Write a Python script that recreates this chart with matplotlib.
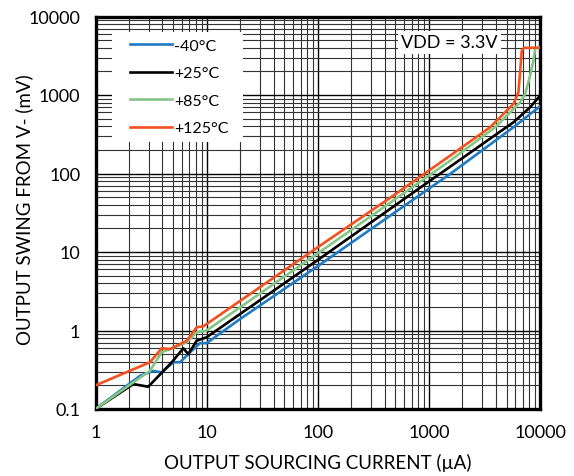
import matplotlib
matplotlib.use("Agg")
import matplotlib.pyplot as plt
from matplotlib.patches import Rectangle
from matplotlib.ticker import LogLocator, FixedLocator, FixedFormatter, NullFormatter

plt.rcParams['font.family'] = ['Lato', 'DejaVu Sans']

# Data (current in uA, swing in mV)
x_m40 = [1, 2.52, 3.31, 3.94, 5.01, 5.77, 7.10, 8.71, 10, 20, 100, 1000, 1552, 5765, 10000]
y_m40 = [0.1, 0.265, 0.305, 0.293, 0.394, 0.394, 0.528, 0.69, 0.69, 1.40, 6.6, 64, 98.6, 388, 718]

x_25 = [1, 2.19, 2.98, 4.86, 6.17, 6.84, 8.13, 10, 100, 1000, 1552, 5765, 8145, 10000]
y_25 = [0.1, 0.208, 0.192, 0.394, 0.593, 0.50, 0.74, 0.82, 7.9, 79, 122, 449, 697, 980]

x_85 = [1, 3.09, 3.94, 4.68, 6.62, 8.13, 10, 100, 1000, 1552, 3945, 6620, 7345, 8145, 8725, 9035, 9300, 10000]
y_85 = [0.1, 0.307, 0.528, 0.58, 0.707, 0.95, 1.0, 9.6, 94, 145.6, 388, 807, 1030, 1762, 2735, 3850, 4000, 4000]

x_125 = [1, 3.09, 3.94, 4.68, 6.62, 8.13, 9.33, 100, 432, 1552, 3556, 5765, 6395, 6855, 7200, 10000]
y_125 = [0.2, 0.394, 0.593, 0.58, 0.74, 1.10, 1.13, 11.5, 47.3, 168.6, 388, 768, 1083, 3665, 4000, 4000]

labels = ['-40°C', '+25°C', '+85°C', '+125°C']
colors = ['#1f7bc4', '#000000', '#84c784', '#f4511e']

x_ticks = [1, 10, 100, 1000, 10000]
x_ticklabels = ['1', '10', '100', '1000', '10000']
y_ticks = [0.1, 1, 10, 100, 1000, 10000]
y_ticklabels = ['0.1', '1', '10', '100', '1000', '10000']

fig = plt.figure(figsize=(5.74, 4.77), dpi=100)
ax = fig.add_axes([95.5/574, 1-410/477, (540-95.5)/574, (410-17.5)/477])
ax.set_xscale('log')
ax.set_yscale('log')
ax.set_xlim(1, 10000)
ax.set_ylim(0.1, 10000)

series = [(x_m40, y_m40), (x_25, y_25), (x_85, y_85), (x_125, y_125)]
for (xs, ys), lab, c in zip(series, labels, colors):
    ax.plot(xs, ys, color=c, lw=1.9, label=lab, zorder=3, solid_joinstyle='round')

ax.xaxis.set_major_locator(FixedLocator(x_ticks))
ax.xaxis.set_major_formatter(FixedFormatter(x_ticklabels))
ax.yaxis.set_major_locator(FixedLocator(y_ticks))
ax.yaxis.set_major_formatter(FixedFormatter(y_ticklabels))
ax.xaxis.set_minor_locator(LogLocator(base=10, subs=range(2, 10), numticks=20))
ax.yaxis.set_minor_locator(LogLocator(base=10, subs=range(2, 10), numticks=20))
ax.xaxis.set_minor_formatter(NullFormatter())
ax.yaxis.set_minor_formatter(NullFormatter())

ax.grid(which='major', color='black', lw=1.0)
ax.grid(which='minor', color='#333333', lw=0.8)
ax.set_axisbelow(True)
ax.tick_params(which='both', length=0, labelsize=13, pad=11)

for s in ax.spines.values():
    s.set_linewidth(2.4)
    s.set_color('black')

ax.set_xlabel('OUTPUT SOURCING CURRENT (µA)', fontsize=13.5, labelpad=9)
ax.set_ylabel('OUTPUT SWING FROM V- (mV)', fontsize=13.5)
ax.yaxis.set_label_coords(-0.141, 0.51)

# white legend background box
ax.add_patch(Rectangle((0.037, 0.68), 0.295, 0.2805, transform=ax.transAxes,
                       facecolor='white', edgecolor='none', zorder=2.5))
leg = ax.legend(loc='upper left', bbox_to_anchor=(0.0776, 0.944), frameon=False,
                fontsize=11.5, handlelength=2.6, labelspacing=0.84, borderpad=0,
                handletextpad=0.15, borderaxespad=0)

ax.text(0.905, 0.955, 'VDD = 3.3V', transform=ax.transAxes, ha='right', va='top',
        fontsize=13, zorder=5,
        bbox=dict(facecolor='white', edgecolor='none', pad=2.5))

fig.savefig('out.png', dpi=100)
